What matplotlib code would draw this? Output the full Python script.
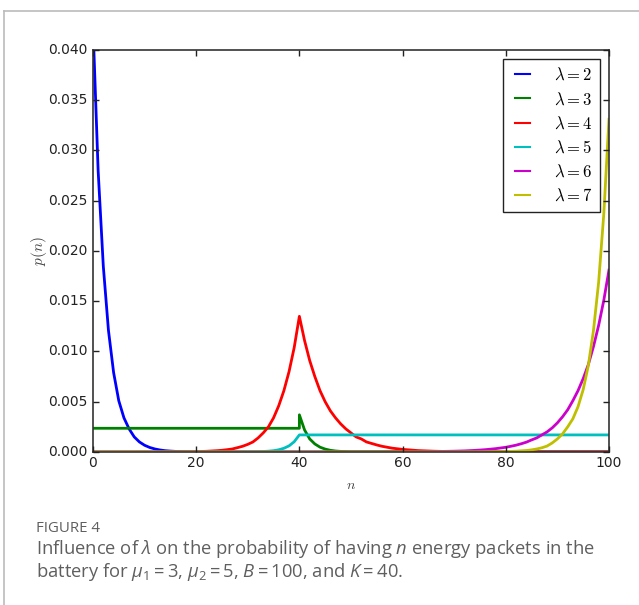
import matplotlib
matplotlib.use("Agg")
import matplotlib.pyplot as plt
from matplotlib.lines import Line2D

plt.style.use("classic")
plt.rcParams["font.family"] = ["DejaVu Sans"]
plt.rcParams["mathtext.fontset"] = "cm"
plt.rcParams["mathtext.rm"] = "Open Sans"
plt.rcParams["mathtext.it"] = "Open Sans:italic"

# p(n) for each arrival rate lambda
lam_labels = [r"$\lambda=2$", r"$\lambda=3$", r"$\lambda=4$",
              r"$\lambda=5$", r"$\lambda=6$", r"$\lambda=7$"]
colors = ["b", "g", "r", "c", "#cc00cc", "y"]

n_lam2 = [0, 1, 2, 3, 4, 5, 6, 7, 8, 9, 10, 11, 12, 13, 14, 15, 16, 18, 20, 100]
p_lam2 = [0.0425, 0.0280, 0.0185, 0.0121, 0.0079, 0.0051, 0.0034, 0.0023,
          0.0015, 0.0010, 0.00067, 0.00045, 0.0003, 0.0002, 0.00013, 0.00009,
          0.00006, 0.00003, 0.00001, 0.0]

n_lam3 = [0, 40, 40, 41, 42, 43, 44, 45, 46, 47, 48, 50, 100]
p_lam3 = [0.00236, 0.00236, 0.0037, 0.0022, 0.0013, 0.0008, 0.00048, 0.00029,
          0.00017, 0.0001, 0.00006, 0.00002, 0.0]

n_lam4 = [0, 15, 20, 22, 24, 25, 26, 27, 28, 29, 30, 31, 32, 33, 34, 35, 36,
          37, 38, 39, 40, 41, 42, 43, 44, 45, 46, 47, 48, 49, 50, 51, 52, 53,
          54, 55, 56, 58, 60, 63, 66, 70, 75, 80, 100]
p_lam4 = [0.0, 0.00001, 0.00004, 0.00007, 0.00013, 0.00017, 0.00023, 0.0003,
          0.00043, 0.00057, 0.00076, 0.0010, 0.0014, 0.0019, 0.0025, 0.0034,
          0.0046, 0.0061, 0.0080, 0.0104, 0.0135, 0.0111, 0.0091, 0.0075,
          0.0061, 0.0050, 0.0041, 0.0034, 0.0028, 0.0023, 0.0019, 0.0015,
          0.0013, 0.0010, 0.00085, 0.0007, 0.00057, 0.00038, 0.00026, 0.00014,
          0.00008, 0.00003, 0.00001, 0.0, 0.0]

n_lam5 = [0, 28, 30, 32, 33, 34, 35, 36, 37, 38, 39, 40, 100]
p_lam5 = [0.0, 0.0, 0.00001, 0.00003, 0.00005, 0.00008, 0.00013, 0.00022,
          0.00037, 0.00061, 0.00102, 0.0017, 0.0017]

n_lam6 = [0, 55, 60, 65, 70, 72, 74, 76, 78, 80, 81, 82, 83, 84, 85, 86, 87,
          88, 89, 90, 91, 92, 93, 94, 95, 96, 97, 98, 99, 100]
p_lam6 = [0.0, 0.0, 0.00001, 0.00003, 0.00008, 0.00011, 0.00016, 0.00023,
          0.00033, 0.00047, 0.00057, 0.00068, 0.00082, 0.00098, 0.0012, 0.0014,
          0.0017, 0.0020, 0.0024, 0.0029, 0.0035, 0.0042, 0.0051, 0.0061,
          0.0073, 0.0087, 0.0105, 0.0126, 0.0151, 0.0181]

n_lam7 = [0, 70, 75, 80, 82, 84, 85, 86, 87, 88, 89, 90, 91, 92, 93, 94, 95,
          96, 97, 98, 99, 100]
p_lam7 = [0.0, 0.0, 0.00001, 0.00004, 0.00008, 0.00015, 0.00021, 0.0003,
          0.00042, 0.00059, 0.0009, 0.0013, 0.0018, 0.0025, 0.0033, 0.0045,
          0.0062, 0.0086, 0.0121, 0.0169, 0.0237, 0.0331]

series_n = [n_lam2, n_lam3, n_lam4, n_lam5, n_lam6, n_lam7]
series_p = [p_lam2, p_lam3, p_lam4, p_lam5, p_lam6, p_lam7]

x_ticks = [0, 20, 40, 60, 80, 100]
y_ticks = [0.000, 0.005, 0.010, 0.015, 0.020, 0.025, 0.030, 0.035, 0.040]

fig = plt.figure(figsize=(6.39, 6.05), dpi=100, facecolor="white")
ax = fig.add_axes([0.1455, 0.2529, 0.8075, 0.6645])

for n, p, c, lab in zip(series_n, series_p, colors, lam_labels):
    ax.plot(n, p, color=c, lw=2, label=lab)

ax.set_xlim(0, 100)
ax.set_ylim(0, 0.04)
ax.set_xticks(x_ticks)
ax.set_yticks(y_ticks)
ax.set_xticklabels([str(t) for t in x_ticks])
ax.set_yticklabels([f"{t:.3f}" for t in y_ticks])
ax.tick_params(axis="both", labelsize=10, colors="#222222", length=4, width=1)
ax.tick_params(axis="x", pad=3)
for s in ax.spines.values():
    s.set_color("#333333")
    s.set_linewidth(1.2)

ax.set_xlabel(r"$n$", fontsize=10, color="#444444", labelpad=6)
ax.set_ylabel(r"$p(n)$", fontsize=11, color="#444444")
ax.yaxis.set_label_coords(-0.086, 0.5)

leg = ax.legend(loc="upper right", fontsize=12, frameon=True, fancybox=False,
                borderaxespad=0.55, handlelength=1.5, labelspacing=0.37,
                handletextpad=1.15, borderpad=0.42, numpoints=2)
leg.get_frame().set_edgecolor("#222222")
leg.get_frame().set_linewidth(1.0)
for h in leg.get_lines():
    h.set_linewidth(1.5)

# card border
fig.add_artist(Line2D([4 / 639, 4 / 639], [0, 1 - 11 / 605], transform=fig.transFigure,
                      color="#bbbbbb", lw=1.2))
fig.add_artist(Line2D([4 / 639, 1], [1 - 11 / 605, 1 - 11 / 605], transform=fig.transFigure,
                      color="#bbbbbb", lw=1.2))

cap_color = "#5f5f5f"
fig.text(36 / 639, 1 - 532 / 605, "FIGURE 4", family="Open Sans", fontsize=10.8,
         color=cap_color, ha="left", va="baseline")
fig.text(36 / 639, 1 - 554 / 605,
         r"Influence of $\lambda$ on the probability of having $n$ energy packets in the",
         family="Open Sans", fontsize=13.2, color=cap_color, ha="left", va="baseline",
         math_fontfamily="custom")
fig.text(36 / 639, 1 - 577 / 605,
         r"battery for $\mu_1 = 3$, $\mu_2 = 5$, $B = 100$, and $K = 40$.",
         family="Open Sans", fontsize=13.2, color=cap_color, ha="left", va="baseline",
         math_fontfamily="custom")

fig.savefig("out.png", dpi=100, facecolor="white")
